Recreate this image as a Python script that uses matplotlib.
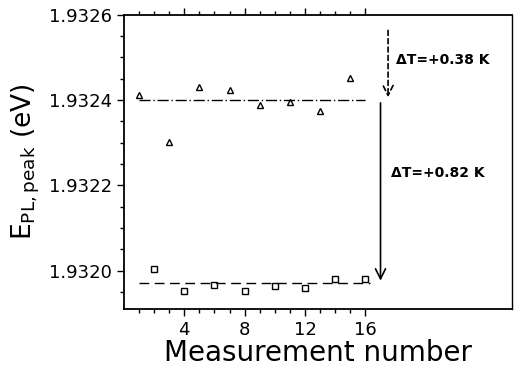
import matplotlib
matplotlib.use("Agg")
import matplotlib.pyplot as plt
from matplotlib.ticker import MultipleLocator, FormatStrFormatter, FixedLocator

tri_x = [1, 3, 5, 7, 9, 11, 13, 15]
tri_y = [1.932412, 1.932301, 1.932430, 1.932424, 1.932388, 1.932395, 1.932374, 1.932452]
sq_x = [2, 4, 6, 8, 10, 12, 14, 16]
sq_y = [1.932003, 1.931953, 1.931967, 1.931952, 1.931964, 1.931960, 1.931980, 1.931981]
tri_mean = 1.93240
sq_mean = 1.931971
xticks = [4, 8, 12, 16]
yticks = [1.9320, 1.9322, 1.9324, 1.9326]

fig = plt.figure(figsize=(5.16, 3.71), dpi=100)
ax = fig.add_axes([0.240, 0.167, 0.752, 0.793])

ax.plot(tri_x, tri_y, linestyle='none', marker='^', mfc='white', mec='black', ms=5, mew=1)
ax.plot(sq_x, sq_y, linestyle='none', marker='s', mfc='white', mec='black', ms=5, mew=1)
ax.plot([1, 16], [tri_mean, tri_mean], color='black', lw=1, linestyle=(0, (8, 2, 1, 2)))
ax.plot([1, 16.3], [sq_mean, sq_mean], color='black', lw=1, linestyle=(0, (7, 4)))

ax.annotate('', xy=(17.5, 1.9324), xytext=(17.5, 1.93257),
            arrowprops=dict(arrowstyle='->', color='black', lw=1.2, linestyle=(0, (3, 2)),
                            mutation_scale=18))
ax.annotate('', xy=(17.0, 1.93197), xytext=(17.0, 1.9324),
            arrowprops=dict(arrowstyle='->', color='black', lw=1.2, mutation_scale=18))
ax.text(18.0, 1.932493, 'ΔT=+0.38 K', fontsize=10, fontweight='bold', va='center', ha='left')
ax.text(17.7, 1.932230, 'ΔT=+0.82 K', fontsize=10, fontweight='bold', va='center', ha='left')

ax.set_xlim(0, 25.7)
ax.set_ylim(1.93191, 1.9326)
ax.set_xticks(xticks)
ax.set_yticks(yticks)
ax.yaxis.set_major_formatter(FormatStrFormatter('%.4f'))
ax.xaxis.set_minor_locator(FixedLocator(list(range(1, 17))))
ax.yaxis.set_minor_locator(MultipleLocator(0.00005))
ax.tick_params(axis='both', which='major', labelsize=13, length=5, width=1, direction='out',
               top=True, right=False)
ax.tick_params(axis='both', which='minor', length=3, width=1, direction='out', top=True,
               right=False)
for s in ax.spines.values():
    s.set_linewidth(1.3)
ax.spines['right'].set_linewidth(1.0)

ax.set_xlabel('Measurement number', fontsize=20, labelpad=0)
ax.set_ylabel(r'E$_{\mathregular{PL,peak}}$ (eV)', fontsize=19, labelpad=5)

fig.savefig('out.png', dpi=100)
